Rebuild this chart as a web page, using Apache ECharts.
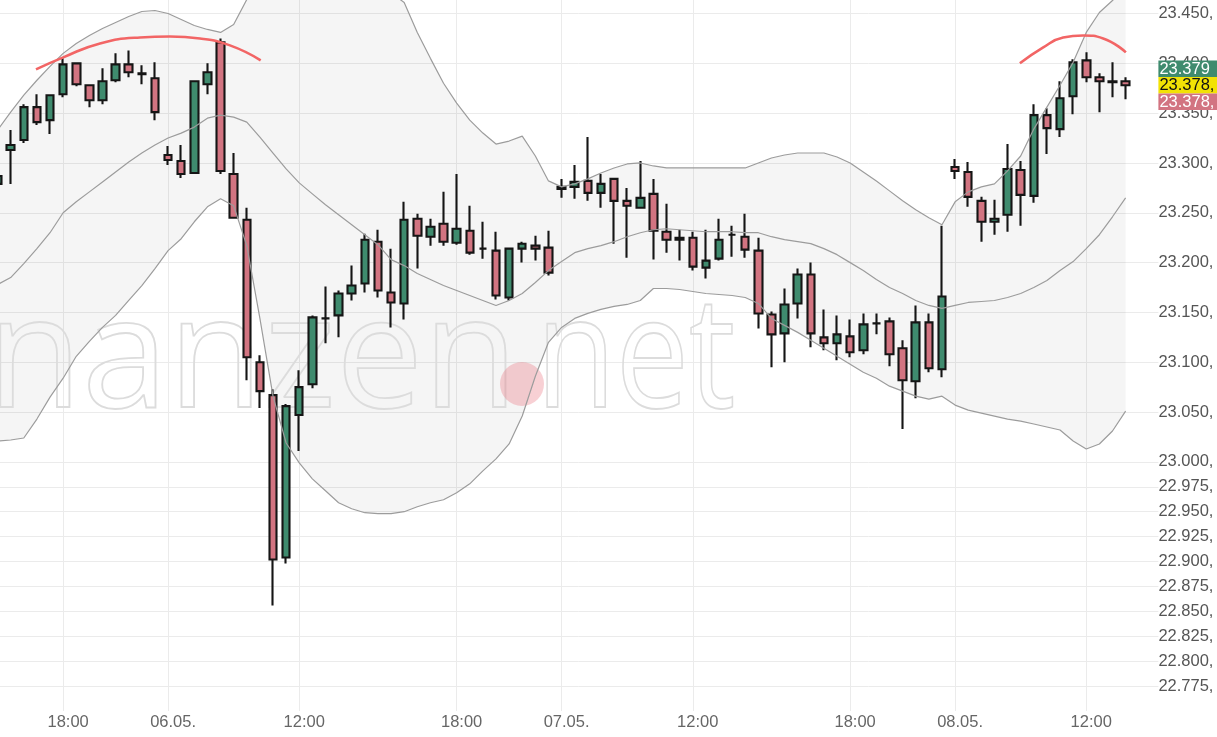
<!DOCTYPE html>
<html><head><meta charset="utf-8">
<script src="https://cdn.jsdelivr.net/npm/echarts@6/dist/echarts.min.js"></script>
<style>html,body{margin:0;padding:0;background:#fff;overflow:hidden}#c{width:1217px;height:737px}</style>
</head><body><div id="c"></div>
<script>
// ---- categories (30-minute candles; last two slots empty) ----
const categories = [
"05.05. 15:30","05.05. 16:00","05.05. 16:30","05.05. 17:00","05.05. 17:30","05.05. 18:00","05.05. 18:30","05.05. 19:00","05.05. 19:30","05.05. 20:00","05.05. 20:30","05.05. 21:00","05.05. 21:30",
"06.05. 07:00","06.05. 07:30","06.05. 08:00","06.05. 08:30","06.05. 09:00","06.05. 09:30","06.05. 10:00","06.05. 10:30","06.05. 11:00","06.05. 11:30","06.05. 12:00","06.05. 12:30","06.05. 13:00","06.05. 13:30","06.05. 14:00","06.05. 14:30","06.05. 15:00","06.05. 15:30","06.05. 16:00","06.05. 16:30","06.05. 17:00","06.05. 17:30","06.05. 18:00","06.05. 18:30","06.05. 19:00","06.05. 19:30","06.05. 20:00","06.05. 20:30","06.05. 21:00","06.05. 21:30",
"07.05. 07:00","07.05. 07:30","07.05. 08:00","07.05. 08:30","07.05. 09:00","07.05. 09:30","07.05. 10:00","07.05. 10:30","07.05. 11:00","07.05. 11:30","07.05. 12:00","07.05. 12:30","07.05. 13:00","07.05. 13:30","07.05. 14:00","07.05. 14:30","07.05. 15:00","07.05. 15:30","07.05. 16:00","07.05. 16:30","07.05. 17:00","07.05. 17:30","07.05. 18:00","07.05. 18:30","07.05. 19:00","07.05. 19:30","07.05. 20:00","07.05. 20:30","07.05. 21:00","07.05. 21:30",
"08.05. 07:00","08.05. 07:30","08.05. 08:00","08.05. 08:30","08.05. 09:00","08.05. 09:30","08.05. 10:00","08.05. 10:30","08.05. 11:00","08.05. 11:30","08.05. 12:00","08.05. 12:30","08.05. 13:00","08.05. 13:30","08.05. 14:00","08.05. 14:30"
];
const labelTimes = ["07:00","12:00","18:00"];
const dayStartTime = "07:00";

// ---- OHLC ----
const opens = [23.279,23.313,23.323,23.356,23.343,23.369,23.400,23.378,23.363,23.383,23.399,23.390,23.385,
23.308,23.302,23.290,23.379,23.421,23.289,23.243,23.100,23.067,22.904,23.047,23.078,23.144,23.147,23.169,23.179,23.221,23.170,23.159,23.244,23.226,23.239,23.220,23.232,23.214,23.212,23.165,23.214,23.217,23.215,
23.276,23.276,23.282,23.270,23.284,23.262,23.255,23.269,23.231,23.223,23.225,23.195,23.204,23.228,23.226,23.212,23.148,23.129,23.159,23.188,23.125,23.119,23.126,23.112,23.139,23.141,23.114,23.081,23.140,23.093,
23.296,23.291,23.262,23.241,23.248,23.293,23.267,23.348,23.334,23.367,23.403,23.386,23.382,23.382];
const closes = [23.287,23.318,23.356,23.341,23.368,23.399,23.379,23.363,23.382,23.399,23.391,23.389,23.351,
23.303,23.289,23.382,23.391,23.292,23.245,23.105,23.071,22.902,23.056,23.075,23.145,23.144,23.169,23.177,23.223,23.172,23.160,23.243,23.227,23.236,23.221,23.234,23.210,23.214,23.167,23.214,23.219,23.214,23.190,
23.274,23.281,23.270,23.279,23.262,23.257,23.265,23.232,23.223,23.225,23.196,23.202,23.223,23.228,23.213,23.149,23.128,23.158,23.188,23.129,23.119,23.128,23.110,23.138,23.139,23.108,23.082,23.140,23.094,23.166,
23.292,23.266,23.241,23.244,23.294,23.268,23.348,23.335,23.365,23.401,23.386,23.382,23.381,23.378];
const lows = [23.274,23.279,23.320,23.338,23.329,23.366,23.377,23.356,23.359,23.381,23.386,23.379,23.343,
23.298,23.285,23.289,23.369,23.289,23.244,23.082,23.054,22.856,22.898,23.011,23.074,23.119,23.125,23.162,23.170,23.165,23.135,23.143,23.194,23.217,23.217,23.218,23.208,23.204,23.163,23.162,23.200,23.202,23.187,
23.265,23.264,23.262,23.255,23.219,23.205,23.254,23.203,23.210,23.202,23.192,23.184,23.202,23.206,23.205,23.134,23.095,23.100,23.144,23.115,23.112,23.102,23.105,23.108,23.128,23.096,23.033,23.064,23.090,23.085,
23.284,23.256,23.221,23.228,23.231,23.237,23.260,23.309,23.326,23.349,23.381,23.351,23.366,23.364];
const highs = [23.292,23.333,23.359,23.369,23.369,23.405,23.401,23.378,23.395,23.410,23.413,23.398,23.401,
23.317,23.318,23.383,23.400,23.425,23.310,23.255,23.107,23.073,23.058,23.092,23.147,23.176,23.172,23.197,23.229,23.233,23.214,23.261,23.249,23.244,23.271,23.289,23.257,23.241,23.231,23.215,23.221,23.227,23.232,
23.284,23.298,23.326,23.289,23.285,23.275,23.302,23.284,23.259,23.233,23.231,23.233,23.244,23.237,23.249,23.225,23.151,23.174,23.194,23.200,23.153,23.147,23.143,23.149,23.149,23.145,23.122,23.157,23.149,23.237,
23.304,23.301,23.266,23.263,23.319,23.302,23.359,23.355,23.382,23.404,23.411,23.390,23.401,23.386];

// ---- Bollinger bands ----
const bbUpper = [23.333,23.351,23.368,23.383,23.397,23.410,23.420,23.428,23.435,23.441,23.447,23.452,23.453,
23.450,23.444,23.438,23.434,23.431,23.439,23.464,23.509,23.554,23.569,23.561,23.555,23.545,23.537,23.523,23.507,23.488,23.471,23.461,23.431,23.405,23.380,23.360,23.343,23.330,23.319,23.322,23.327,23.307,23.282,
23.276,23.279,23.284,23.290,23.295,23.299,23.300,23.297,23.295,23.295,23.295,23.295,23.295,23.295,23.295,23.300,23.305,23.308,23.310,23.310,23.310,23.306,23.300,23.291,23.282,23.272,23.262,23.253,23.245,23.238,
23.261,23.271,23.276,23.279,23.292,23.307,23.334,23.356,23.378,23.401,23.431,23.451,23.463,23.478];
const bbMiddle = [23.178,23.185,23.199,23.214,23.230,23.250,23.261,23.271,23.281,23.291,23.301,23.310,23.318,
23.325,23.330,23.336,23.345,23.348,23.346,23.341,23.326,23.310,23.294,23.280,23.269,23.258,23.248,23.238,23.228,23.218,23.203,23.197,23.189,23.183,23.177,23.172,23.167,23.162,23.157,23.162,23.169,23.180,23.192,
23.201,23.210,23.214,23.217,23.221,23.226,23.230,23.233,23.234,23.233,23.232,23.231,23.231,23.231,23.230,23.230,23.226,23.223,23.221,23.219,23.214,23.208,23.200,23.192,23.183,23.175,23.169,23.162,23.157,23.154,
23.157,23.160,23.161,23.162,23.165,23.169,23.175,23.182,23.192,23.201,23.214,23.228,23.246,23.265];
const bbLower = [23.021,23.022,23.024,23.043,23.065,23.084,23.106,23.121,23.135,23.147,23.162,23.177,23.194,
23.212,23.224,23.241,23.256,23.264,23.257,23.217,23.144,23.066,23.019,22.999,22.983,22.971,22.959,22.953,22.949,22.948,22.948,22.950,22.955,22.959,22.962,22.969,22.978,22.991,23.003,23.018,23.046,23.086,23.120,
23.135,23.144,23.149,23.153,23.156,23.158,23.162,23.174,23.174,23.173,23.171,23.169,23.168,23.167,23.165,23.159,23.144,23.137,23.130,23.122,23.114,23.106,23.098,23.090,23.084,23.076,23.071,23.066,23.063,23.066,
23.057,23.052,23.049,23.046,23.043,23.041,23.038,23.035,23.032,23.021,23.013,23.018,23.031,23.051];

// ---- red annotation arcs (x in candle-index units) ----
const arc1Idx = [2.93,5.01,7.81,10.86,13.14,15.43,17.72,20.06];
const arc1Val = [23.394,23.406,23.420,23.426,23.427,23.425,23.418,23.403];
const arc2Idx = [77.94,79.72,81.24,82.76,84.29,86.02];
const arc2Val = [23.400,23.416,23.426,23.428,23.425,23.411];

// ---- y axis ----
const yMin = 22.75, yMax = 23.475, yStep = 0.025;
const yDenseBelow = 23.000;   // every 0.025 labelled at/below this, every 0.05 above
const yHidden = [22.750];

// ---- last-price tags ----
const tagValues = [23.379, 23.378, 23.378];
const tagTexts = ["23.379", "23.378,", "23.378,"];

const ohlc = opens.map((o, i) => [o, closes[i], lows[i], highs[i]]);
const bandWidth = bbUpper.map((u, i) => +(u - bbLower[i]).toFixed(4));
const arc1 = arc1Idx.map((x, i) => [x, arc1Val[i]]);
const arc2 = arc2Idx.map((x, i) => [x, arc2Val[i]]);

const yTickVals = [];
for (let k = 0; Math.round((yMin + k * yStep) * 1000) <= Math.round(yMax * 1000); k++) yTickVals.push(Math.round((yMin + k * yStep) * 1000));
function yShown(m) {
  if (yHidden.some(h => Math.round(h * 1000) === m)) return false;
  if (m <= Math.round(yDenseBelow * 1000)) return true;
  return m % 50 === 0;
}
const gridColor = '#ebebeb';
const splitColors = yTickVals.map(m => yShown(m) ? gridColor : 'rgba(0,0,0,0)');

const timeOf = s => s.slice(7);
const dateOf = s => s.slice(0, 6);
const xShow = (idx, val) => labelTimes.indexOf(timeOf(val)) >= 0;
const xGridLines = categories.filter((c, i) => xShow(i, c)).map(c => ({ xAxis: c }));

const chart = echarts.init(document.getElementById('c'), null, { renderer: 'canvas' });
const lineStyleBand = { color: '#9c9c9c', width: 1.2 };
const labelFont = 16.5;
const option = {
  animation: false,
  backgroundColor: '#ffffff',
  grid: { left: -9, right: 58.6, top: -11.4, bottom: 26, containLabel: false, outerBoundsMode: 'none' },
  xAxis: [{
    type: 'category', data: categories, boundaryGap: true,
    axisLine: { show: false }, axisTick: { show: false },
    axisLabel: {
      interval: xShow, margin: 3, color: '#666', fontSize: labelFont, fontFamily: 'Arial',
      padding: [0, 0, 0, 10],
      formatter: v => timeOf(v) === dayStartTime ? dateOf(v) : timeOf(v)
    },
    splitLine: { show: false }
  }, {
    type: 'value', min: -0.5, max: categories.length - 0.5, show: false
  }],
  yAxis: {
    type: 'value', position: 'right', min: yMin, max: yMax, interval: yStep, scale: true,
    axisLine: { show: false }, axisTick: { show: false },
    axisLabel: {
      margin: 0, color: '#555', fontSize: labelFont, fontFamily: 'Arial',
      showMinLabel: false, showMaxLabel: false,
      formatter: v => { const m = Math.round(v * 1000); return yShown(m) ? (m / 1000).toFixed(3) + ',' : ''; }
    },
    splitLine: { show: true, lineStyle: { color: splitColors, width: 1 } }
  },
  series: [
    { name: 'bbBase', type: 'line', data: bbLower, stack: 'bb', symbol: 'none', lineStyle: { opacity: 0 }, silent: true, z: 1,
      markLine: { z: 1, silent: true, symbol: ['none', 'none'], label: { show: false },
        emphasis: { disabled: true },
        lineStyle: { color: gridColor, type: 'solid', width: 1 }, data: xGridLines } },
    { name: 'bbFill', type: 'line', data: bandWidth, stack: 'bb', symbol: 'none', lineStyle: { opacity: 0 },
      areaStyle: { color: 'rgba(0,0,0,0.055)', origin: 'auto' }, silent: true, z: 1 },
    { name: 'Kurs', type: 'candlestick', data: ohlc, barWidth: 8, z: 3,
      itemStyle: { color: '#3f8b6e', color0: '#d27481', borderColor: '#151515', borderColor0: '#151515', borderWidth: 2.1 } },
    { name: 'BB oben', type: 'line', data: bbUpper, symbol: 'none', lineStyle: lineStyleBand, z: 4 },
    { name: 'BB Mitte', type: 'line', data: bbMiddle, symbol: 'none', lineStyle: lineStyleBand, z: 4 },
    { name: 'BB unten', type: 'line', data: bbLower, symbol: 'none', lineStyle: lineStyleBand, z: 4 },
    { name: 'Bogen1', type: 'line', xAxisIndex: 1, data: arc1, smooth: true, symbol: 'none', lineStyle: { color: '#f26565', width: 2.6 }, z: 5 },
    { name: 'Bogen2', type: 'line', xAxisIndex: 1, data: arc2, smooth: true, symbol: 'none', lineStyle: { color: '#f26565', width: 2.6 }, z: 5 }
  ]
};
chart.setOption(option);

// watermark + last price tags (tag positions from the chart's own scales)
const gridRight = chart.convertToPixel({ xAxisIndex: 1 }, categories.length - 0.5);
const yMid = chart.convertToPixel({ yAxisIndex: 0 }, tagValues[1]);
const tagFill = ['#3f8b6e', '#f2e205', '#d27481'];
const tagText = ['#ffffff', '#111111', '#ffffff'];
const tagH = 16.5;
const wmStyle = { font: '155px "Open Sans"', fill: 'rgba(0,0,0,0)', stroke: '#dcdcdc', lineWidth: 1.8 };
const graphics = [
  { type: 'text', z: 1, silent: true, x: 518, y: 440,
    style: Object.assign({ text: 'finanzen', x: 0, y: 0, align: 'right', verticalAlign: 'bottom' }, wmStyle) },
  { type: 'circle', z: 1, silent: true, shape: { cx: 522, cy: 384, r: 22 }, style: { fill: 'rgba(232,110,120,0.32)' } },
  { type: 'text', z: 1, silent: true, x: 536, y: 440, scaleX: 0.84,
    style: Object.assign({ text: 'net', x: 0, y: 0, align: 'left', verticalAlign: 'bottom' }, wmStyle) }
];
tagValues.forEach((v, i) => {
  const cy = yMid + (i - 1) * tagH;
  graphics.push({ type: 'rect', z: 50, silent: true, shape: { x: gridRight, y: cy - tagH / 2, width: 70, height: tagH }, style: { fill: tagFill[i] } });
  graphics.push({ type: 'text', z: 51, silent: true, style: { text: tagTexts[i], x: gridRight + 1, y: cy + 0.5, verticalAlign: 'middle', align: 'left',
      fill: tagText[i], font: labelFont + 'px Arial' } });
});
chart.setOption({ graphic: graphics });
</script>
</body></html>
